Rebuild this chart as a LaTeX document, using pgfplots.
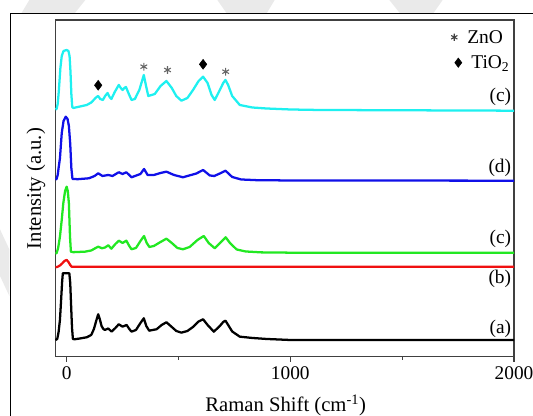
\documentclass[border=0pt]{standalone}
\usepackage{fontspec}
\setmainfont{Liberation Serif}
\usepackage{pgfplots}
\pgfplotsset{compat=1.18}
\definecolor{ccyan}{HTML}{1EF0F0}
\definecolor{cblue}{HTML}{1010E8}
\definecolor{cgreen}{HTML}{22E822}
\definecolor{cred}{HTML}{F01010}
\definecolor{wm}{HTML}{EAEAEA}
\begin{document}
\begin{tikzpicture}
\useasboundingbox (0,0) rectangle (399.75pt,312pt);
% faint watermark shapes outside the frame
\fill[wm] (22pt,312pt) -- (64pt,312pt) -- (56pt,302pt) -- (16pt,302pt) -- cycle;
\fill[wm] (163pt,312pt) -- (206pt,312pt) -- (200pt,302pt) -- (170pt,302pt) -- cycle;
\fill[wm] (292pt,312pt) -- (332pt,312pt) -- (325pt,302pt) -- (300pt,302pt) -- cycle;
\fill[wm] (0pt,140pt) -- (7pt,125pt) -- (7pt,90pt) -- (0pt,105pt) -- cycle;
\draw[line width=1pt] (7.9pt,-20pt) rectangle (420pt,302pt);
\begin{axis}[
  at={(41.6pt,44.5pt)}, anchor=south west,
  width=343.9pt, height=252.5pt, scale only axis,
  xmin=-50, xmax=2000, ymin=59.3, ymax=396,
  xtick={0,1000,2000}, minor xtick={500,1500}, ytick=\empty,
  xtick pos=left, tick align=outside,
  major tick length=4pt, minor tick length=2.5pt,
  axis line style={black!75, line width=0.8pt},
  every tick/.style={black!75, line width=0.8pt},
  ticklabel style={font=\fontsize{14.5}{16}\selectfont},
  /pgf/number format/assume math mode=true,
  /pgf/number format/1000 sep={},
  clip=false,
]
\addplot[black, line width=1.7pt, line join=round] coordinates {
(-50,76)(-42,77)(-36,84)(-30,96)(-25,115)(-20,135)(-17,142.7)(12,142.7)(16,133)(20,110)(24,88)(28,77)(35,76.7)(60,77.5)(90,78.7)(110,81)(122,87)(132,95)(141,101.7)(148,97)(156,90)(164,87)(171,86)(186,87.5)(201,84.3)(218,88)(233,91.7)(250,89.3)(268,91)(280,87)(290,84.3)(310,86)(330,93)(345,97.7)(356,90)(369,85.3)(385,86)(402,86.7)(425,91)(446,93.7)(470,89)(490,85)(513,83.3)(540,85)(565,89)(590,94.5)(610,96.7)(630,91)(658,84.3)(685,90)(700,94)(710,95.3)(722,91)(740,84.5)(774,79.3)(830,78)(893,77)(997,76)(2000,76)};
\addplot[cred, line width=1.7pt, line join=round] coordinates {
(-50,148.7)(-42,149)(-30,150.5)(-20,152.5)(-10,155)(0,156)(8,154)(16,151)(22,149.3)(2000,149.3)};
\addplot[cgreen, line width=1.7pt, line join=round] coordinates {
(-50,162.7)(-45,162.7)(-38,168)(-30,179.3)(-22,196)(-15,212.7)(-7,225)(0,229.3)(5,225)(10,212.7)(15,179.3)(19,164.3)(30,163.8)(82,164.3)(110,165.5)(130,168)(141,169.3)(158,167.7)(172,168.5)(186,170.7)(200,167.3)(218,172)(233,175.3)(250,173)(267,175.3)(280,170)(290,166.7)(310,168)(330,175)(346,180)(358,173)(370,169)(390,170)(420,174)(446,177.3)(470,173)(495,168)(520,166.7)(550,169)(585,176)(613,180)(635,173)(662,167.7)(690,174)(711,178.7)(730,173)(760,166.5)(800,164.5)(870,163.6)(1000,163.3)(2000,163.3)};
\addplot[cblue, line width=1.7pt, line join=round] coordinates {
(-50,236.5)(-45,237)(-40,241)(-36,248)(-30,257.7)(-22,282.7)(-14,295)(-4,299.3)(4,297)(10,290)(16,272)(21,248)(26,237)(50,236.8)(100,237.7)(125,240)(141,242.7)(160,240)(186,241)(205,240)(220,242)(233,243.7)(250,242)(267,243.7)(290,238.7)(330,242)(346,247)(362,241)(390,241)(420,243)(446,244.3)(480,241)(520,238.7)(580,242.5)(610,246)(640,240.5)(660,240)(690,243)(710,245.3)(740,239)(780,236.5)(850,235.8)(1000,235.5)(2000,235.3)};
\addplot[ccyan, line width=1.7pt, line join=round] coordinates {
(-50,306.5)(-45,307)(-40,312)(-35,325)(-28,348)(-22,360)(-14,365)(0,366)(8,365)(13,360)(17,345)(21,322)(25,309)(30,308)(60,309.5)(90,311)(110,313.5)(125,317)(134,319)(141,320)(150,317)(162,316)(172,320)(183,323)(192,319)(200,317)(215,324)(233,331)(242,328)(250,326)(258,328)(265,329)(278,322)(290,316)(305,317)(325,326)(345,341)(355,330)(365,320)(380,321)(394,322)(420,330)(446,335)(470,328)(490,320)(513,315.3)(540,318)(565,326)(590,335)(610,339.3)(630,333)(648,321)(662,316)(685,326)(700,333)(710,336)(722,331)(740,320)(774,311)(830,308.5)(893,307.5)(1000,306.5)(1130,306)(2000,305.3)};
% peak markers
\addplot[only marks, mark=diamond*, mark size=3.7pt, black] coordinates {(141,330.7)(610,351.7)};
\addplot[only marks, mark=asterisk, mark size=2.9pt, black!60, mark options={line width=0.8pt}] coordinates {(345,349.3)(451,346)(711,344.3)};
% legend
\addplot[only marks, mark=asterisk, mark size=2.7pt, black!75, mark options={line width=0.8pt}] coordinates {(1733,378.7)};
\addplot[only marks, mark=diamond*, mark size=3.5pt, black] coordinates {(1751,353.3)};
\node[anchor=base west, inner sep=0, font=\fontsize{14.6}{16}\selectfont] at (axis cs:1790,372.7) {ZnO};
\node[anchor=base west, inner sep=0, font=\fontsize{14.6}{16}\selectfont] at (axis cs:1808,347.7) {TiO\textsubscript{2}};
% curve labels
\node[anchor=east, inner sep=0, font=\fontsize{14.5}{16}\selectfont] at (axis cs:1988,319) {(c)};
\node[anchor=east, inner sep=0, font=\fontsize{14.5}{16}\selectfont] at (axis cs:1988,248) {(d)};
\node[anchor=east, inner sep=0, font=\fontsize{14.5}{16}\selectfont] at (axis cs:1988,176.7) {(c)};
\node[anchor=east, inner sep=0, font=\fontsize{14.5}{16}\selectfont] at (axis cs:1988,137) {(b)};
\node[anchor=east, inner sep=0, font=\fontsize{14.5}{16}\selectfont] at (axis cs:1988,86.7) {(a)};
\end{axis}
\node[anchor=base, inner sep=0, font=\fontsize{15.5}{17}\selectfont] at (214.3pt,3.2pt) {Raman Shift (cm\textsuperscript{-1})};
\node[anchor=base, rotate=90, inner sep=0, font=\fontsize{15.5}{17}\selectfont] at (30.75pt,170.6pt) {Intensity (a.u.)};
\end{tikzpicture}
\end{document}
